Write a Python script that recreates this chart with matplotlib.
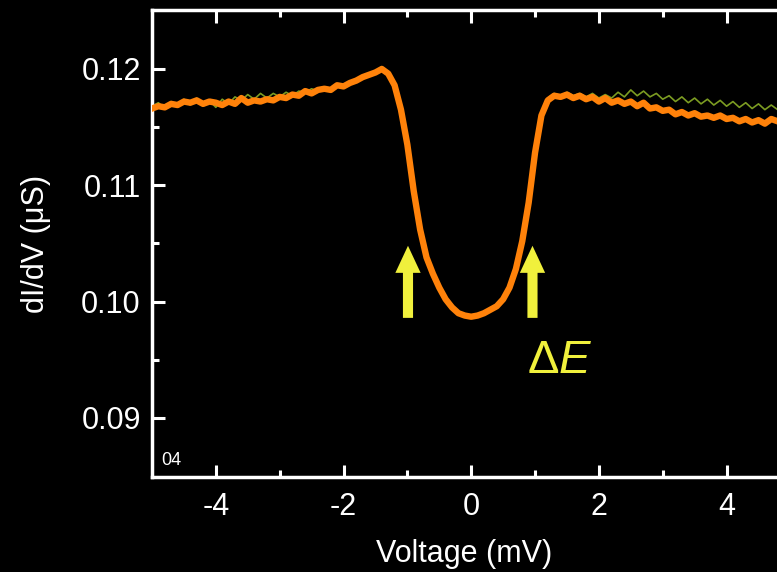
import numpy as np
import matplotlib
matplotlib.use("Agg")
import matplotlib.pyplot as plt

plt.rcParams['font.family'] = ['Liberation Sans', 'DejaVu Sans']
plt.rcParams['mathtext.fontset'] = 'custom'
plt.rcParams['mathtext.rm'] = 'Liberation Sans'
plt.rcParams['mathtext.it'] = 'Liberation Sans:italic'
plt.rcParams['axes.unicode_minus'] = False

# bias voltage grid (mV)
voltage = [round(-5.0 + 0.1 * i, 1) for i in range(99)]

# thick orange trace
didv_orange = [
    0.1166, 0.1168, 0.1167, 0.1170, 0.1169, 0.1172, 0.1171, 0.1173, 0.1170, 0.1172,
    0.1171, 0.1169, 0.1172, 0.1170, 0.1175, 0.1171, 0.1173, 0.1172, 0.1174, 0.1173,
    0.1176, 0.1175, 0.1178, 0.1177, 0.1181, 0.1179, 0.1182, 0.1183, 0.1182, 0.1186,
    0.1185, 0.1188, 0.1190, 0.1193, 0.1195, 0.1197, 0.1200, 0.1196, 0.1186, 0.1165,
    0.1135, 0.1095, 0.1062, 0.1038, 0.1024, 0.1012, 0.1002, 0.0995, 0.0990, 0.0988,
    0.0987, 0.0988, 0.0990, 0.0993, 0.0996, 0.1002, 0.1012, 0.1028, 0.1052, 0.1085,
    0.1128, 0.1160, 0.1173, 0.1177, 0.1176, 0.1178, 0.1175, 0.1177, 0.1174, 0.1176,
    0.1172, 0.1175, 0.1171, 0.1173, 0.1170, 0.1172, 0.1168, 0.1171, 0.1166, 0.1167,
    0.1164, 0.1165, 0.1161, 0.1163, 0.1160, 0.1162, 0.1159, 0.1160, 0.1158, 0.1160,
    0.1157, 0.1158, 0.1155, 0.1157, 0.1154, 0.1156, 0.1153, 0.1157, 0.1155,
]

# thin green trace underneath
didv_green = [
    0.1168, 0.1171, 0.1166, 0.1172, 0.1168, 0.1174, 0.1169, 0.1175, 0.1168, 0.1173,
    0.1167, 0.1174, 0.1170, 0.1176, 0.1173, 0.1178, 0.1174, 0.1179, 0.1175, 0.1179,
    0.1176, 0.1180, 0.1177, 0.1181, 0.1180, 0.1183, 0.1181, 0.1184, 0.1183, 0.1187,
    0.1184, 0.1189, 0.1191, 0.1192, 0.1196, 0.1198, 0.1202, 0.1197, 0.1187, 0.1164,
    0.1134, 0.1096, 0.1061, 0.1039, 0.1023, 0.1013, 0.1001, 0.0996, 0.0989, 0.0989,
    0.0986, 0.0989, 0.0991, 0.0992, 0.0997, 0.1003, 0.1011, 0.1029, 0.1051, 0.1086,
    0.1127, 0.1161, 0.1175, 0.1179, 0.1177, 0.1180, 0.1177, 0.1179, 0.1176, 0.1179,
    0.1175, 0.1178, 0.1175, 0.1180, 0.1176, 0.1182, 0.1177, 0.1181, 0.1176, 0.1179,
    0.1174, 0.1177, 0.1172, 0.1176, 0.1171, 0.1175, 0.1170, 0.1174, 0.1169, 0.1173,
    0.1168, 0.1172, 0.1167, 0.1171, 0.1166, 0.1170, 0.1165, 0.1169, 0.1165,
]

# gap edge markers
arrow_x = [-0.99, 0.96]
arrow_tail = 0.0986
arrow_tip = 0.1048

fig = plt.figure(figsize=(7.77, 5.72), dpi=100, facecolor='black')
ax = fig.add_axes([0.1956, 0.1661, 0.8044, 0.8164], facecolor='black')

ax.plot(voltage, didv_green, color='#7c9c22', lw=1.2, zorder=2)
ax.plot(voltage, didv_orange, color='#ff820a', lw=4.6, zorder=3)

for xa in arrow_x:
    ax.annotate('', xy=(xa, arrow_tip), xytext=(xa, arrow_tail),
                arrowprops=dict(arrowstyle='simple,head_width=0.7,head_length=0.75,tail_width=0.28',
                                mutation_scale=26, color='#f0f03c', lw=0,
                                shrinkA=0, shrinkB=0), zorder=4)

ax.text(0.87, 0.09386, r'$\Delta\mathit{E}$', color='#f0f03c', fontsize=34,
        ha='left', va='baseline')
ax.text(0.015, 0.025, '04', color='white', fontsize=13, transform=ax.transAxes)

ax.set_xlim(-5, 4.79)
ax.set_ylim(0.08492, 0.12507)
ax.set_xticks([-4, -2, 0, 2, 4])
ax.set_xticks([-3, -1, 1, 3], minor=True)
ax.set_yticks([0.09, 0.10, 0.11, 0.12])
ax.set_yticks([0.095, 0.105, 0.115], minor=True)
ax.set_yticklabels(['0.09', '0.10', '0.11', '0.12'])

for s in ['left', 'bottom', 'top']:
    ax.spines[s].set_color('white')
    ax.spines[s].set_linewidth(2.5)
ax.spines['right'].set_visible(False)

ax.tick_params(which='both', direction='in', colors='white', width=2.2, top=True, right=False)
ax.tick_params(which='major', length=9, labelsize=22)
ax.tick_params(which='minor', length=5)
ax.tick_params(axis='x', pad=11)
ax.tick_params(axis='y', pad=8)

ax.set_xlabel('Voltage (mV)', color='white', fontsize=22, labelpad=12)
ax.set_ylabel('dI/dV (μS)', color='white', fontsize=22, labelpad=22)

fig.savefig('out.png', dpi=100, facecolor='black')
